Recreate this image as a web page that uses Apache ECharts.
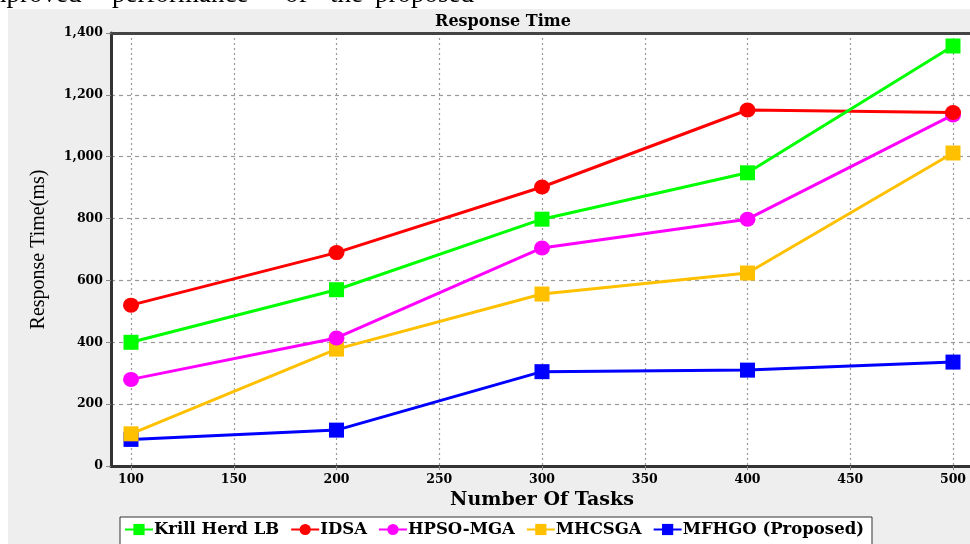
<!DOCTYPE html>
<html><head><meta charset="utf-8">
<script src="https://cdn.jsdelivr.net/npm/echarts@6/dist/echarts.min.js"></script>
<style>html,body{margin:0;padding:0;background:#fff}#c{width:970px;height:544px}</style>
</head><body><div id="c"></div>
<script>
const tasks = [100, 200, 300, 400, 500];
const krillHerd = [400, 570, 798, 948, 1358];
const idsa = [520, 690, 902, 1151, 1143];
const hpsoMga = [280, 414, 705, 798, 1135];
const mhcsga = [104, 378, 556, 624, 1012];
const mfhgo = [86, 116, 305, 310, 336];
const seriesNames = ['Krill Herd LB', 'IDSA', 'HPSO-MGA', 'MHCSGA', 'MFHGO (Proposed)'];
const seriesColors = ['#00ff00', '#ff0000', '#ff00ff', '#ffc000', '#0000ff'];
const seriesSymbols = ['rect', 'circle', 'circle', 'rect', 'rect'];
const seriesValues = [krillHerd, idsa, hpsoMga, mhcsga, mfhgo];
const topWords = [['improved', -22], ['performance', 112], ['of', 285], ['the', 330], ['proposed', 375]];

const serif = '"Liberation Serif", "DejaVu Serif", serif';
const wide = '"DejaVu Serif", serif';
const chart = echarts.init(document.getElementById('c'));

const series = seriesNames.map((n, i) => ({
  name: n, type: 'line', xAxisIndex: 2, yAxisIndex: 1,
  data: tasks.map((t, j) => [t, seriesValues[i][j]]),
  symbol: seriesSymbols[i],
  symbolSize: seriesSymbols[i] === 'rect' ? 15 : [16, 15],
  itemStyle: { color: seriesColors[i] },
  lineStyle: { color: seriesColors[i], width: 3 },
  z: 10 - i, clip: false, animation: false
}));

chart.setOption({
  animation: false,
  backgroundColor: '#ffffff',
  graphic: [
    { type: 'rect', left: 8, top: 9, shape: { width: 962, height: 535 }, style: { fill: '#eeeeee' }, z: -10 },
    ...topWords.map(w => ({ type: 'text', x: w[1], y: -5, style: { text: w[0], font: '27px ' + serif, fill: '#000', verticalAlign: 'middle' }, z: 5 }))
  ],
  title: {
    text: 'Response Time', left: 498, top: 9, textAlign: 'center',
    textStyle: { fontFamily: wide, fontWeight: 'bold', fontSize: 16, color: '#000' }
  },
  legend: {
    left: 120, top: 517, itemGap: 11, itemWidth: 28, itemHeight: 14,
    backgroundColor: '#ffffff', borderColor: '#333', borderWidth: 1, padding: [4, 8, 10, 4],
    textStyle: { fontFamily: wide, fontWeight: 'bold', fontSize: 16.5, color: '#000', padding: [0, 0, 0, -4] },
    data: seriesNames
  },
  grid: [
    { left: 111, right: 0, top: 33, bottom: 78, backgroundColor: '#fff', show: true, borderWidth: 0 },
    { left: 131, right: 17, top: 33, bottom: 78 }
  ],
  xAxis: [
    { gridIndex: 0, type: 'value', min: 90, max: 508, position: 'bottom',
      axisLine: { show: true, lineStyle: { color: '#333', width: 3 } },
      axisTick: { show: false }, axisLabel: { show: false }, splitLine: { show: false } },
    { gridIndex: 0, type: 'value', min: 90, max: 508, position: 'top',
      axisLine: { show: true, lineStyle: { color: '#444', width: 3 } },
      axisTick: { show: false }, axisLabel: { show: false }, splitLine: { show: false } },
    { gridIndex: 1, type: 'value', min: 100, max: 500, interval: 50, position: 'bottom',
      name: 'Number Of Tasks', nameLocation: 'middle', nameGap: 25,
      nameTextStyle: { fontFamily: wide, fontWeight: 'bold', fontSize: 19, color: '#000' },
      axisLine: { show: false },
      axisTick: { show: true, length: 4, lineStyle: { color: '#888' } },
      axisLabel: { fontFamily: wide, fontWeight: 'bold', fontSize: 12.5, color: '#000', margin: 7 },
      splitLine: { show: true, lineStyle: { color: '#999', type: [2, 3], width: 1.2 } } }
  ],
  yAxis: [
    { gridIndex: 0, type: 'value', min: 0, max: 1400, interval: 200,
      name: 'Response Time(ms)', nameLocation: 'middle', nameGap: 62,
      nameTextStyle: { fontFamily: serif, fontSize: 20, color: '#000' },
      axisLine: { show: true, lineStyle: { color: '#333', width: 3 } },
      axisTick: { show: true, length: 5, lineStyle: { color: '#888' } },
      axisLabel: { fontFamily: wide, fontWeight: 'bold', fontSize: 12.5, color: '#000', margin: 8,
        formatter: v => v.toLocaleString('en-US') },
      splitLine: { show: true, lineStyle: { color: '#999', type: [4, 4], width: 1.2 } } },
    { gridIndex: 1, type: 'value', min: 0, max: 1400, show: false, splitLine: { show: false } }
  ],
  series
});
</script></body></html>
